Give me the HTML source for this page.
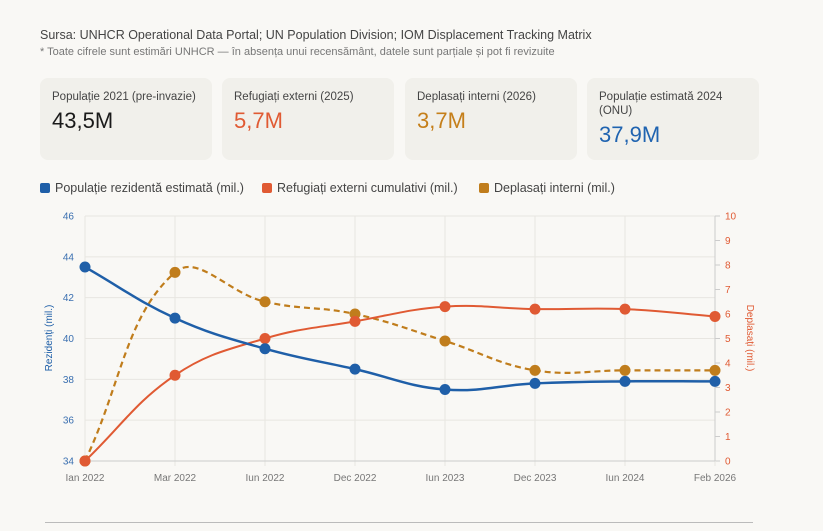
<!DOCTYPE html>
<html><head><meta charset="utf-8"><style>
body{margin:0;width:823px;height:531px;background:#f9f8f5;font-family:"Liberation Sans",sans-serif;position:relative;overflow:hidden;color:#333}
.src{position:absolute;left:40px;top:28px;font-size:12.5px;color:#444}
.note{position:absolute;left:40px;top:46px;font-size:11px;color:#777}
.card{position:absolute;top:78px;height:82px;width:172px;background:#f1f0eb;border-radius:8px}
.card .l{position:absolute;left:12px;top:12px;font-size:11.5px;color:#444;line-height:14px;width:140px}
.card .v{position:absolute;left:12px;top:30px;font-size:22px}
.leg{position:absolute;top:181px;font-size:12.5px;color:#444}
.leg i{display:inline-block;width:10px;height:10px;border-radius:2px;margin-right:5px;vertical-align:-1px}
</style></head><body>
<div class="src">Sursa: UNHCR Operational Data Portal; UN Population Division; IOM Displacement Tracking Matrix</div>
<div class="note">* Toate cifrele sunt estimări UNHCR — în absența unui recensământ, datele sunt parțiale și pot fi revizuite</div>
<div class="card" style="left:40px"><div class="l" style="width:160px">Populație 2021 (pre-invazie)</div><div class="v" style="color:#1a1a1a">43,5M</div></div>
<div class="card" style="left:222px"><div class="l" style="width:160px">Refugiați externi (2025)</div><div class="v" style="color:#e05a33">5,7M</div></div>
<div class="card" style="left:405px"><div class="l" style="width:160px">Deplasați interni (2026)</div><div class="v" style="color:#c57f1a">3,7M</div></div>
<div class="card" style="left:587px"><div class="l">Populație estimată 2024 (ONU)</div><div class="v" style="color:#1f63b0;top:44px">37,9M</div></div>
<div class="leg" style="left:40px"><i style="background:#1f5fa8"></i>Populație rezidentă estimată (mil.)</div>
<div class="leg" style="left:262px"><i style="background:#e05a33"></i>Refugiați externi cumulativi (mil.)</div>
<div class="leg" style="left:479px"><i style="background:#c07d1c"></i>Deplasați interni (mil.)</div>
<svg id="c" width="823" height="531" style="position:absolute;left:0;top:0" font-family="Liberation Sans, sans-serif"></svg>
<div style="position:absolute;left:45px;top:522px;width:708px;height:1px;background:#bbb"></div>
<script>
var s='',X=[85,175,265,355,445,535,625,715],L=['Ian 2022','Mar 2022','Iun 2022','Dec 2022','Iun 2023','Dec 2023','Iun 2024','Feb 2026'];
function yl(v){return 461-(v-34)*245/12}function yr(v){return 461-v*24.5}
for(var v=34;v<=46;v+=2){var y=yl(v);s+='<line x1="85" x2="715" y1="'+y+'" y2="'+y+'" stroke="#e8e6e1"/><text x="74" y="'+(y+3.5)+'" font-size="10" fill="#3a6fb0" text-anchor="end">'+v+'</text>';}
for(var v=0;v<=10;v++){var y=yr(v);s+='<line x1="715" x2="720" y1="'+y+'" y2="'+y+'" stroke="#ccc"/><text x="725" y="'+(y+3.5)+'" font-size="10" fill="#e05a33">'+v+'</text>';}
for(var i=0;i<8;i++){s+='<line x1="'+X[i]+'" x2="'+X[i]+'" y1="216" y2="466" stroke="#e8e6e1"/><text x="'+X[i]+'" y="481" font-size="10" fill="#777" text-anchor="middle">'+L[i]+'</text>';}
s+='<line x1="85" x2="715" y1="461" y2="461" stroke="#ccc"/><line x1="715" x2="715" y1="216" y2="461" stroke="#ccc"/>';
s+='<text transform="translate(52,338) rotate(-90)" font-size="10" fill="#1f5fa8" text-anchor="middle">Rezidenți (mil.)</text>';
s+='<text transform="translate(747,338) rotate(90)" font-size="10" fill="#e05a33" text-anchor="middle">Deplasați (mil.)</text>';
function path(P){var t=0.4,cp=[];for(var i=0;i<P.length;i++){var p=P[i],a=P[i-1]||p,b=P[i+1]||p;var d1=Math.hypot(p[0]-a[0],p[1]-a[1]),d2=Math.hypot(b[0]-p[0],b[1]-p[1]);var s1=d1/(d1+d2||1),s2=d2/(d1+d2||1);s1=isNaN(s1)?0:s1;s2=isNaN(s2)?0:s2;cp.push([[p[0]-t*s1*(b[0]-a[0]),p[1]-t*s1*(b[1]-a[1])],[p[0]+t*s2*(b[0]-a[0]),p[1]+t*s2*(b[1]-a[1])]]);}
var d='M'+P[0][0]+','+P[0][1];for(var i=1;i<P.length;i++){d+=' C'+cp[i-1][1][0]+','+cp[i-1][1][1]+' '+cp[i][0][0]+','+cp[i][0][1]+' '+P[i][0]+','+P[i][1];}return d;}
function ser(vals,f,col,w,dash){var P=vals.map(function(v,i){return[X[i],f(v)]});s+='<path d="'+path(P)+'" fill="none" stroke="'+col+'" stroke-width="'+w+'"'+(dash?' stroke-dasharray="6,4"':'')+'/>';P.forEach(function(p){s+='<circle cx="'+p[0]+'" cy="'+p[1]+'" r="5.5" fill="'+col+'"/>';});}
ser([0,7.7,6.5,6.0,4.9,3.7,3.7,3.7],yr,'#c07d1c',2.2,true);
ser([0,3.5,5.0,5.7,6.3,6.2,6.2,5.9],yr,'#e05a33',2,false);
ser([43.5,41,39.5,38.5,37.5,37.8,37.9,37.9],yl,'#1f5fa8',2.5,false);
document.getElementById('c').innerHTML=s;
</script>
</body></html>
